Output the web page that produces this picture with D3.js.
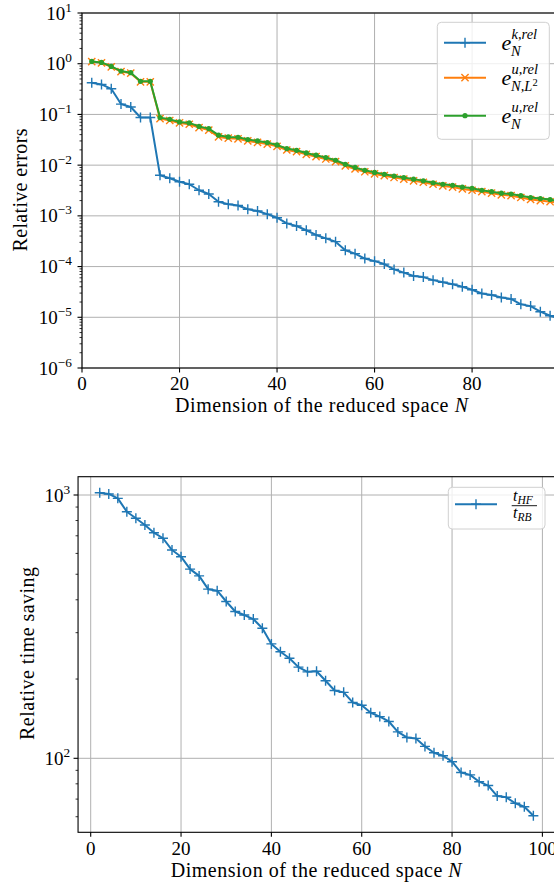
<!DOCTYPE html>
<html><head><meta charset="utf-8">
<script src="https://cdn.jsdelivr.net/npm/d3@7"></script>
<style>
body{margin:0;background:#fff;}
svg{display:block;}
text{font-family:"Liberation Serif","Times New Roman",serif;fill:#000;}
</style></head>
<body>
<script>
// ---------- DATA ----------
const N = [2,4,6,8,10,12,14,16,18,20,22,24,26,28,30,32,34,36,38,40,42,44,46,48,50,
  52,54,56,58,60,62,64,66,68,70,72,74,76,78,80,82,84,86,88,90,92,94,96,98];
const errK = [0.42,0.39,0.32,0.16,0.14,0.087,0.087,0.0063,0.0055,0.0047,0.0042,0.0032,0.0027,0.0019,0.0017,
  0.0016,0.00135,0.00125,0.00108,0.00092,0.00071,0.00063,0.00052,0.00042,0.00036,0.00031,0.00021,0.00018,
  0.000144,0.000128,0.000112,0.000088,0.000076,0.000065,0.000062,0.000054,0.000049,0.000045,0.000040,0.000035,
  0.0000295,0.0000275,0.0000245,0.000023,0.000018,0.0000166,0.0000129,0.0000107,0.0000095];
const errUL2 = [1.10,1.04,0.87,0.70,0.65,0.44,0.44,0.083,0.076,0.068,0.064,0.055,0.049,0.036,0.034,
  0.033,0.030,0.028,0.026,0.0235,0.0199,0.0184,0.0163,0.0147,0.0132,0.0117,0.0097,0.0084,0.0074,0.0067,
  0.0062,0.0057,0.0053,0.0049,0.0046,0.0042,0.0039,0.0037,0.0034,0.0032,0.0030,0.0028,0.0026,0.0025,0.0023,
  0.0021,0.0020,0.0019,0.0018];
const errU = [1.11,1.06,0.885,0.715,0.665,0.45,0.45,0.0865,0.080,0.071,0.068,0.058,0.0525,0.039,0.036,
  0.0355,0.032,0.030,0.0279,0.025,0.0212,0.0196,0.0174,0.0157,0.0141,0.0125,0.0104,0.0090,0.0079,0.0072,
  0.0066,0.0061,0.0057,0.0053,0.0049,0.0045,0.0042,0.0040,0.0037,0.0035,0.0032,0.0030,0.0028,0.0027,0.0025,
  0.0023,0.0022,0.0021,0.0019];
const timeSaving = [1020,1009,971,864,816,769,719,685,618,583,523,493,439,433,394,361,350,338,312,272,
  254,240,222,213,214,197,181,178,163,159,149,144,138,126,120,119,111,105,102.3,97.1,
  88.3,86.5,81.5,78.8,71.9,71.1,67.5,65.5,60.5];
const xTicksTop = [0,20,40,60,80];
const xTicksBot = [0,20,40,60,80,100];
const yTicksTop = [-6,-5,-4,-3,-2,-1,0,1];
const yTicksBot = [2,3];

const C_BLUE="#1f77b4", C_ORANGE="#ff7f0e", C_GREEN="#2ca02c", C_GRID="#b0b0b0";
const W=554, H=884;
const svg=d3.select("body").append("svg").attr("width",W).attr("height",H);

function powLabel(g, x, y, exp, anchor, fs){
  const t=g.append("text").attr("x",x).attr("y",y).attr("text-anchor",anchor).style("font-size",fs+"px");
  t.append("tspan").text("10");
  t.append("tspan").attr("dy",-8).style("font-size",(fs*0.7)+"px").text(exp<0?"\u2212"+(-exp):String(exp));
  return t;
}

function drawMarkers(g, data, x, y, type, color){
  const s=g.selectAll(null).data(data).enter().append("g")
    .attr("transform",d=>`translate(${x(d[0])},${y(d[1])})`);
  if(type==="plus"){
    s.append("path").attr("d","M-5,0H5M0,-5V5").attr("stroke",color).attr("stroke-width",1.4).attr("fill","none");
  } else if(type==="x"){
    s.append("path").attr("d","M-3.6,-3.6L3.6,3.6M-3.6,3.6L3.6,-3.6").attr("stroke",color).attr("stroke-width",1.4).attr("fill","none");
  } else {
    s.append("circle").attr("r",2.6).attr("fill",color);
  }
}

// ================= TOP CHART =================
{
  const L=82, T=13, B=368, R=82+98*4.876;
  const x=d3.scaleLinear().domain([0,98]).range([L,R]);
  const y=d3.scaleLog().domain([1e-6,1e1]).range([B,T]);
  const g=svg.append("g");
  svg.append("clipPath").attr("id","clipTop").append("rect").attr("x",L).attr("y",T).attr("width",R-L).attr("height",B-T);
  g.selectAll(null).data(xTicksTop).enter().append("line")
    .attr("x1",d=>x(d)).attr("x2",d=>x(d)).attr("y1",T).attr("y2",B).attr("stroke",C_GRID).attr("stroke-width",1);
  g.selectAll(null).data(yTicksTop).enter().append("line")
    .attr("x1",L).attr("x2",R).attr("y1",d=>y(Math.pow(10,d))).attr("y2",d=>y(Math.pow(10,d))).attr("stroke",C_GRID).attr("stroke-width",1);
  const series=[
    {v:errK,c:C_BLUE,m:"plus"},
    {v:errUL2,c:C_ORANGE,m:"x"},
    {v:errU,c:C_GREEN,m:"dot"}];
  const pg=g.append("g").attr("clip-path","url(#clipTop)");
  series.forEach(s=>{
    const data=N.map((n,i)=>[n,s.v[i]]);
    pg.append("path").datum(data).attr("fill","none").attr("stroke",s.c).attr("stroke-width",2)
      .attr("stroke-linejoin","round")
      .attr("d",d3.line().x(d=>x(d[0])).y(d=>y(d[1])));
    drawMarkers(pg,data,x,y,s.m,s.c);
  });
  g.append("rect").attr("x",L).attr("y",T).attr("width",R-L).attr("height",B-T).attr("fill","none").attr("stroke","#000").attr("stroke-width",1.1);
  g.selectAll(null).data(xTicksTop).enter().append("line")
    .attr("x1",d=>x(d)).attr("x2",d=>x(d)).attr("y1",B).attr("y2",B+4.5).attr("stroke","#000").attr("stroke-width",1.1);
  g.selectAll(null).data(xTicksTop).enter().append("text")
    .attr("x",d=>x(d)).attr("y",B+22).attr("text-anchor","middle").style("font-size","19px").text(d=>d);
  yTicksTop.forEach(e=>{
    const yy=y(Math.pow(10,e));
    g.append("line").attr("x1",L-4.5).attr("x2",L).attr("y1",yy).attr("y2",yy).attr("stroke","#000").attr("stroke-width",1.1);
    powLabel(g,L-10,yy+6.5,e,"end",19);
  });
  for(let e=-6;e<1;e++){for(let k=2;k<10;k++){const yy=y(k*Math.pow(10,e));
    g.append("line").attr("x1",L-2.5).attr("x2",L).attr("y1",yy).attr("y2",yy).attr("stroke","#000").attr("stroke-width",0.8);}}
  g.append("text").attr("x",321.5).attr("y",411.5).attr("text-anchor","middle").style("font-size","20px")
    .attr("textLength",293).attr("lengthAdjust","spacing")
    .html('Dimension of the reduced space <tspan font-style="italic">N</tspan>');
  g.append("text").attr("transform",`translate(26.5,190) rotate(-90)`).attr("text-anchor","middle").style("font-size","20px")
    .attr("textLength",123).attr("lengthAdjust","spacing").text("Relative errors");
  // legend
  const lg=g.append("g");
  lg.append("rect").attr("x",437.3).attr("y",22.3).attr("width",112).attr("height",117).attr("rx",4)
    .attr("fill","#fff").attr("fill-opacity",0.8).attr("stroke","#d0d0d0").attr("stroke-width",1);
  const rows=[{y:42.7,c:C_BLUE,m:"plus",sup:"k,rel",sub:"N"},{y:77.7,c:C_ORANGE,m:"x",sup:"u,rel",sub:"N,L",sub2:"2"},{y:115.7,c:C_GREEN,m:"dot",sup:"u,rel",sub:"N"}];
  rows.forEach(r=>{
    lg.append("line").attr("x1",444).attr("x2",486).attr("y1",r.y).attr("y2",r.y).attr("stroke",r.c).attr("stroke-width",2);
    drawMarkers(lg,[[465,r.y]],d=>d,d=>d,r.m,r.c);
    const bx=501.5, by=r.y+7.5;
    lg.append("text").attr("x",bx).attr("y",by).style("font-size","22px").style("font-style","italic").text("e");
    lg.append("text").attr("x",bx+10).attr("y",by-11).style("font-size","14.5px").style("font-style","italic").text(r.sup);
    const st=lg.append("text").attr("x",bx+9.5).attr("y",by+5.5).style("font-size","14.5px").style("font-style","italic");
    st.append("tspan").text(r.sub);
    if(r.sub2) st.append("tspan").attr("dy",-5).style("font-size","10.5px").style("font-style","normal").text(r.sub2);
  });
}

// ================= BOTTOM CHART =================
{
  const x=d3.scaleLinear().domain([-2.8,102.8]).range([90.7-2.8*4.517,90.7+102.8*4.517]);
  const L=x(-2.8), R=x(102.8), T=476.7, B=832.3;
  const y=d3.scaleLog().domain([Math.pow(10,1.719),Math.pow(10,3.0695)]).range([B,T]);
  const g=svg.append("g");
  svg.append("clipPath").attr("id","clipBot").append("rect").attr("x",L).attr("y",T).attr("width",R-L).attr("height",B-T);
  g.selectAll(null).data(xTicksBot).enter().append("line")
    .attr("x1",d=>x(d)).attr("x2",d=>x(d)).attr("y1",T).attr("y2",B).attr("stroke",C_GRID).attr("stroke-width",1);
  g.selectAll(null).data(yTicksBot).enter().append("line")
    .attr("x1",L).attr("x2",R).attr("y1",d=>y(Math.pow(10,d))).attr("y2",d=>y(Math.pow(10,d))).attr("stroke",C_GRID).attr("stroke-width",1);
  const pg=g.append("g").attr("clip-path","url(#clipBot)");
  const data=N.map((n,i)=>[n,timeSaving[i]]);
  pg.append("path").datum(data).attr("fill","none").attr("stroke",C_BLUE).attr("stroke-width",2)
    .attr("stroke-linejoin","round").attr("d",d3.line().x(d=>x(d[0])).y(d=>y(d[1])));
  drawMarkers(pg,data,x,y,"plus",C_BLUE);
  g.append("rect").attr("x",L).attr("y",T).attr("width",R-L).attr("height",B-T).attr("fill","none").attr("stroke","#000").attr("stroke-width",1.1);
  g.selectAll(null).data(xTicksBot).enter().append("line")
    .attr("x1",d=>x(d)).attr("x2",d=>x(d)).attr("y1",B).attr("y2",B+4.5).attr("stroke","#000").attr("stroke-width",1.1);
  g.selectAll(null).data(xTicksBot).enter().append("text")
    .attr("x",d=>x(d)).attr("y",855).attr("text-anchor","middle").style("font-size","19px").text(d=>d);
  yTicksBot.forEach(e=>{
    const yy=y(Math.pow(10,e));
    g.append("line").attr("x1",L-4.5).attr("x2",L).attr("y1",yy).attr("y2",yy).attr("stroke","#000").attr("stroke-width",1.1);
    powLabel(g,L-8,yy+6.5,e,"end",19);
  });
  [60,70,80,90,200,300,400,500,600,700,800,900].forEach(v=>{const yy=y(v);
    g.append("line").attr("x1",L-2.5).attr("x2",L).attr("y1",yy).attr("y2",yy).attr("stroke","#000").attr("stroke-width",0.8);});
  g.append("text").attr("x",316.2).attr("y",877).attr("text-anchor","middle").style("font-size","20px")
    .attr("textLength",291).attr("lengthAdjust","spacing")
    .html('Dimension of the reduced space <tspan font-style="italic">N</tspan>');
  g.append("text").attr("transform",`translate(33.5,653.5) rotate(-90)`).attr("text-anchor","middle").style("font-size","20px")
    .attr("textLength",173).attr("lengthAdjust","spacing").text("Relative time saving");
  // legend
  const lg=g.append("g");
  lg.append("rect").attr("x",448.3).attr("y",487.3).attr("width",96.7).attr("height",41.7).attr("rx",4)
    .attr("fill","#fff").attr("fill-opacity",0.8).attr("stroke","#d0d0d0").attr("stroke-width",1);
  lg.append("line").attr("x1",455).attr("x2",497).attr("y1",504.3).attr("y2",504.3).attr("stroke",C_BLUE).attr("stroke-width",2);
  drawMarkers(lg,[[476,504.3]],d=>d,d=>d,"plus",C_BLUE);
  lg.append("line").attr("x1",511.7).attr("x2",537).attr("y1",505.7).attr("y2",505.7).attr("stroke","#000").attr("stroke-width",0.9);
  const num=lg.append("text").attr("x",513).attr("y",501).style("font-style","italic").style("font-size","16px");
  num.append("tspan").text("t");
  num.append("tspan").attr("dy",3).style("font-size","11.5px").text("HF");
  const den=lg.append("text").attr("x",513).attr("y",517.5).style("font-style","italic").style("font-size","16px");
  den.append("tspan").text("t");
  den.append("tspan").attr("dy",3).style("font-size","11.5px").text("RB");
}
</script>
</body></html>
